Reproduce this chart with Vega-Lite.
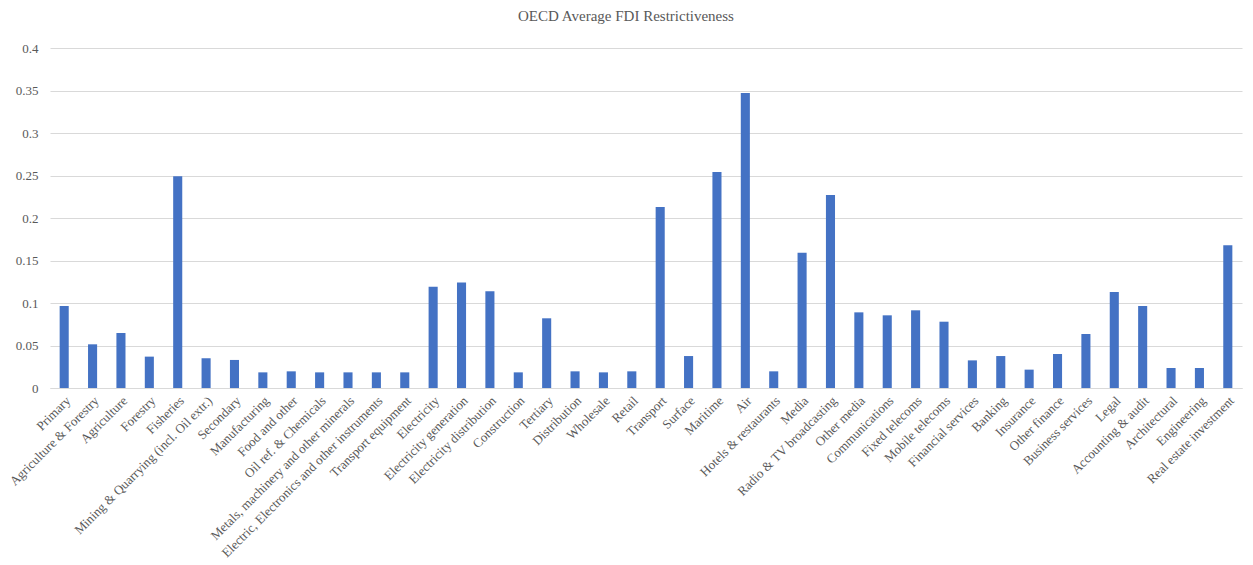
{
  "$schema": "https://vega.github.io/schema/vega-lite/v6.json",
  "autosize": {"type": "none"},
  "width": 1192,
  "height": 340,
  "padding": {"left": 50, "top": 48, "right": 11, "bottom": 177},
  "background": "white",
  "title": {
    "text": "OECD Average  FDI Restrictiveness",
    "font": "Liberation Serif",
    "fontSize": 15,
    "fontWeight": "normal",
    "color": "#595959",
    "anchor": "middle",
    "dx": -20,
    "offset": 18
  },
  "data": {
    "values": [
      {"sector": "Primary", "value": 0.0965},
      {"sector": "Agriculture & Forestry", "value": 0.0514},
      {"sector": "Agriculture", "value": 0.0647},
      {"sector": "Forestry", "value": 0.0369},
      {"sector": "Fisheries", "value": 0.249},
      {"sector": "Mining & Quarrying (incl. Oil extr.)", "value": 0.035},
      {"sector": "Secondary", "value": 0.033},
      {"sector": "Manufacturing", "value": 0.0184},
      {"sector": "Food and other", "value": 0.0196},
      {"sector": "Oil ref. & Chemicals", "value": 0.0184},
      {"sector": "Metals, machinery and other minerals", "value": 0.0184},
      {"sector": "Electric, Electronics and other instruments", "value": 0.0184},
      {"sector": "Transport equipment", "value": 0.0184},
      {"sector": "Electricity", "value": 0.119},
      {"sector": "Electricity generation", "value": 0.124},
      {"sector": "Electricity distribution", "value": 0.1137},
      {"sector": "Construction", "value": 0.0184},
      {"sector": "Tertiary", "value": 0.082},
      {"sector": "Distribution", "value": 0.0196},
      {"sector": "Wholesale", "value": 0.0184},
      {"sector": "Retail", "value": 0.0196},
      {"sector": "Transport", "value": 0.213},
      {"sector": "Surface", "value": 0.0376},
      {"sector": "Maritime", "value": 0.254},
      {"sector": "Air", "value": 0.347},
      {"sector": "Hotels & restaurants", "value": 0.0196},
      {"sector": "Media", "value": 0.159},
      {"sector": "Radio & TV broadcasting", "value": 0.227},
      {"sector": "Other media", "value": 0.089},
      {"sector": "Communications", "value": 0.0855},
      {"sector": "Fixed telecoms", "value": 0.0914},
      {"sector": "Mobile telecoms", "value": 0.078},
      {"sector": "Financial services", "value": 0.0325},
      {"sector": "Banking", "value": 0.0376},
      {"sector": "Insurance", "value": 0.0216},
      {"sector": "Other finance", "value": 0.04},
      {"sector": "Business services", "value": 0.0635},
      {"sector": "Legal", "value": 0.113},
      {"sector": "Accounting & audit", "value": 0.0965},
      {"sector": "Architectural", "value": 0.0235},
      {"sector": "Engineering", "value": 0.0235},
      {"sector": "Real estate investment", "value": 0.168}
    ]
  },
  "mark": {"type": "bar", "color": "#4472C4"},
  "encoding": {
    "x": {
      "field": "sector",
      "type": "nominal",
      "sort": null,
      "scale": {"paddingInner": 0.68, "paddingOuter": 0.34},
      "axis": {
        "title": null,
        "labelAngle": -45,
        "labelFont": "Liberation Serif",
        "labelFontSize": 13,
        "labelColor": "#595959",
        "labelPadding": 6,
        "ticks": false,
        "domainColor": "#d9d9d9",
        "domainWidth": 1,
        "labelOverlap": false,
        "labelLimit": 400,
        "grid": false
      }
    },
    "y": {
      "field": "value",
      "type": "quantitative",
      "scale": {"domain": [0, 0.4], "nice": false},
      "axis": {
        "title": null,
        "values": [0, 0.05, 0.1, 0.15, 0.2, 0.25, 0.3, 0.35, 0.4],
        "format": "~g",
        "labelFont": "Liberation Serif",
        "labelFontSize": 13,
        "labelColor": "#595959",
        "labelPadding": 12,
        "ticks": false,
        "domain": false,
        "gridColor": "#d9d9d9",
        "gridWidth": 1
      }
    }
  },
  "config": {
    "view": {"stroke": null}
  }
}
